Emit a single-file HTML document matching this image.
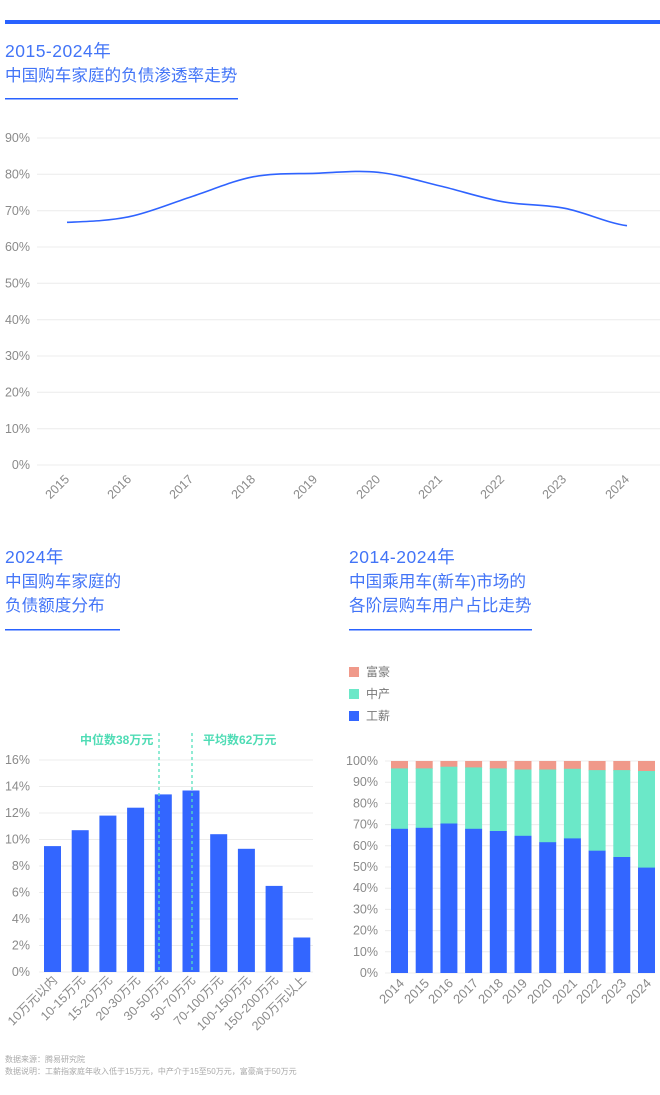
<!DOCTYPE html>
<html><head><meta charset="utf-8"><style>
html,body{margin:0;padding:0;background:#fff;}
svg{display:block;font-family:"Liberation Sans","Noto Sans CJK SC",sans-serif;}
.t{fill:#4274f7;font-size:16.6px;}
.tn{fill:#4274f7;font-size:17.5px;letter-spacing:0.5px;}
.ax{fill:#8a8a8a;font-size:12.5px;}
.g{stroke:#ececec;stroke-width:1;}
</style></head><body>
<svg width="660" height="1095" viewBox="0 0 660 1095">
<rect x="5" y="20" width="655" height="4" fill="#2962ff"/>
<text class="tn" x="5" y="57">2015-2024年</text>
<text class="t" x="5" y="81">中国购车家庭的负债渗透率走势</text>
<rect x="5" y="98" width="233" height="1.5" fill="#2962ff"/>
<g class="g">
<line x1="37" x2="660" y1="138" y2="138"/><line x1="37" x2="660" y1="174.3" y2="174.3"/><line x1="37" x2="660" y1="210.7" y2="210.7"/><line x1="37" x2="660" y1="247" y2="247"/><line x1="37" x2="660" y1="283.3" y2="283.3"/><line x1="37" x2="660" y1="319.7" y2="319.7"/><line x1="37" x2="660" y1="356" y2="356"/><line x1="37" x2="660" y1="392.3" y2="392.3"/><line x1="37" x2="660" y1="428.7" y2="428.7"/><line x1="37" x2="660" y1="465" y2="465"/>
</g>
<g class="ax" text-anchor="end">
<text x="30" y="142">90%</text><text x="30" y="178.5">80%</text><text x="30" y="215">70%</text><text x="30" y="251">60%</text><text x="30" y="287.5">50%</text><text x="30" y="324">40%</text><text x="30" y="360">30%</text><text x="30" y="396.5">20%</text><text x="30" y="433">10%</text><text x="30" y="469">0%</text>
</g>
<path d="M67,222.3 C87.7,221.4 108.5,220.97 129.2,216.7 C149.9,212.43 170.7,203.37 191.4,196.7 C212.1,190.03 233,180.6 253.7,176.7 C274.4,172.8 295.2,174.03 315.9,173.3 C336.6,172.57 357.4,170.18 378.1,172.3 C398.8,174.42 419.6,181.1 440.3,186 C461,190.9 481.9,197.98 502.6,201.7 C523.3,205.42 544.1,204.3 564.8,208.3 C585.5,212.3 606.3,222.8 627,225.7" fill="none" stroke="#2f63ff" stroke-width="1.6"/>
<g class="ax" text-anchor="end">
<text transform="translate(70,480) rotate(-45)">2015</text>
<text transform="translate(132,480) rotate(-45)">2016</text>
<text transform="translate(194,480) rotate(-45)">2017</text>
<text transform="translate(256,480) rotate(-45)">2018</text>
<text transform="translate(318,480) rotate(-45)">2019</text>
<text transform="translate(381,480) rotate(-45)">2020</text>
<text transform="translate(443,480) rotate(-45)">2021</text>
<text transform="translate(505,480) rotate(-45)">2022</text>
<text transform="translate(567,480) rotate(-45)">2023</text>
<text transform="translate(630,480) rotate(-45)">2024</text>
</g>

<text class="tn" x="5" y="563">2024年</text>
<text class="t" x="5" y="587">中国购车家庭的</text>
<text class="t" x="5" y="611">负债额度分布</text>
<rect x="5" y="629" width="115" height="1.5" fill="#2962ff"/>
<g class="g">
<line x1="39" x2="313" y1="760" y2="760"/><line x1="39" x2="313" y1="786.5" y2="786.5"/><line x1="39" x2="313" y1="813" y2="813"/><line x1="39" x2="313" y1="839.5" y2="839.5"/><line x1="39" x2="313" y1="866" y2="866"/><line x1="39" x2="313" y1="892.5" y2="892.5"/><line x1="39" x2="313" y1="919" y2="919"/><line x1="39" x2="313" y1="945.5" y2="945.5"/><line x1="39" x2="313" y1="972" y2="972"/>
</g>
<g class="ax" text-anchor="end">
<text x="30" y="764">16%</text><text x="30" y="790.5">14%</text><text x="30" y="817">12%</text><text x="30" y="843.5">10%</text><text x="30" y="870">8%</text><text x="30" y="896.5">6%</text><text x="30" y="923">4%</text><text x="30" y="949.5">2%</text><text x="30" y="976">0%</text>
</g>
<g fill="#3366ff">
<rect x="44" y="846.1" width="17" height="125.9"/><rect x="71.7" y="830.2" width="17" height="141.8"/><rect x="99.4" y="815.6" width="17" height="156.4"/><rect x="127.1" y="807.7" width="17" height="164.3"/><rect x="154.8" y="794.4" width="17" height="177.6"/><rect x="182.5" y="790.5" width="17" height="181.5"/><rect x="210.2" y="834.2" width="17" height="137.8"/><rect x="237.9" y="848.8" width="17" height="123.2"/><rect x="265.6" y="885.9" width="17" height="86.1"/><rect x="293.3" y="937.5" width="17" height="34.5"/>
</g>
<line x1="159" x2="159" y1="733" y2="972" stroke="#55e0bd" stroke-width="1.3" stroke-dasharray="3,3"/>
<line x1="192" x2="192" y1="733" y2="972" stroke="#55e0bd" stroke-width="1.3" stroke-dasharray="3,3"/>
<text x="80" y="744" fill="#4fdcb5" font-size="12" font-weight="bold">中位数38万元</text>
<text x="203" y="744" fill="#4fdcb5" font-size="12" font-weight="bold">平均数62万元</text>
<g class="ax" text-anchor="end" style="font-size:12.5px">
<text transform="translate(58,981) rotate(-45)">10万元以内</text>
<text transform="translate(86,981) rotate(-45)">10-15万元</text>
<text transform="translate(113,981) rotate(-45)">15-20万元</text>
<text transform="translate(141,981) rotate(-45)">20-30万元</text>
<text transform="translate(169,981) rotate(-45)">30-50万元</text>
<text transform="translate(196,981) rotate(-45)">50-70万元</text>
<text transform="translate(224,981) rotate(-45)">70-100万元</text>
<text transform="translate(252,981) rotate(-45)">100-150万元</text>
<text transform="translate(279,981) rotate(-45)">150-200万元</text>
<text transform="translate(307,981) rotate(-45)">200万元以上</text>
</g>
<text x="5" y="1062" fill="#aaa" font-size="8">数据来源：腾易研究院</text>
<text x="5" y="1074" fill="#aaa" font-size="8">数据说明：工薪指家庭年收入低于15万元，中产介于15至50万元，富豪高于50万元</text>

<text class="tn" x="349" y="563">2014-2024年</text>
<text class="t" x="349" y="587">中国乘用车(新车)市场的</text>
<text class="t" x="349" y="611">各阶层购车用户占比走势</text>
<rect x="349" y="629" width="183" height="1.5" fill="#2962ff"/>
<rect x="349" y="667" width="10" height="10" fill="#f0998a"/><text x="366" y="676" fill="#777" font-size="12">富豪</text>
<rect x="349" y="689" width="10" height="10" fill="#6be8c8"/><text x="366" y="698" fill="#777" font-size="12">中产</text>
<rect x="349" y="711" width="10" height="10" fill="#3366ff"/><text x="366" y="720" fill="#777" font-size="12">工薪</text>
<g class="g">
<line x1="385" x2="655" y1="761" y2="761"/><line x1="385" x2="655" y1="782.2" y2="782.2"/><line x1="385" x2="655" y1="803.4" y2="803.4"/><line x1="385" x2="655" y1="824.6" y2="824.6"/><line x1="385" x2="655" y1="845.8" y2="845.8"/><line x1="385" x2="655" y1="867" y2="867"/><line x1="385" x2="655" y1="888.2" y2="888.2"/><line x1="385" x2="655" y1="909.4" y2="909.4"/><line x1="385" x2="655" y1="930.6" y2="930.6"/><line x1="385" x2="655" y1="951.8" y2="951.8"/><line x1="385" x2="655" y1="973" y2="973"/>
</g>
<g class="ax" text-anchor="end">
<text x="378" y="765">100%</text><text x="378" y="786">90%</text><text x="378" y="807.5">80%</text><text x="378" y="828.5">70%</text><text x="378" y="850">60%</text><text x="378" y="871">50%</text><text x="378" y="892">40%</text><text x="378" y="913.5">30%</text><text x="378" y="934.5">20%</text><text x="378" y="956">10%</text><text x="378" y="977">0%</text>
</g>
<g fill="#f0998a">
<rect x="391" y="761" width="17" height="8"/><rect x="415.7" y="761" width="17" height="8"/><rect x="440.4" y="761" width="17" height="6"/><rect x="465.1" y="761" width="17" height="7"/><rect x="489.8" y="761" width="17" height="8"/><rect x="514.5" y="761" width="17" height="9"/><rect x="539.2" y="761" width="17" height="9"/><rect x="563.9" y="761" width="17" height="8"/><rect x="588.6" y="761" width="17" height="10"/><rect x="613.3" y="761" width="17" height="10"/><rect x="638" y="761" width="17" height="10"/>
</g>
<g fill="#6be8c8">
<rect x="391" y="768.4" width="17" height="61"/><rect x="415.7" y="768.4" width="17" height="60"/><rect x="440.4" y="766.7" width="17" height="57"/><rect x="465.1" y="767.4" width="17" height="62"/><rect x="489.8" y="768.4" width="17" height="63"/><rect x="514.5" y="769.5" width="17" height="67"/><rect x="539.2" y="769.5" width="17" height="73"/><rect x="563.9" y="768.8" width="17" height="70"/><rect x="588.6" y="770.1" width="17" height="81"/><rect x="613.3" y="770.1" width="17" height="87"/><rect x="638" y="771" width="17" height="97"/>
</g>
<g fill="#3366ff">
<rect x="391" y="828.8" width="17" height="144.2"/><rect x="415.7" y="827.8" width="17" height="145.2"/><rect x="440.4" y="823.5" width="17" height="149.5"/><rect x="465.1" y="828.8" width="17" height="144.2"/><rect x="489.8" y="831" width="17" height="142"/><rect x="514.5" y="835.8" width="17" height="137.2"/><rect x="539.2" y="842.2" width="17" height="130.8"/><rect x="563.9" y="838.4" width="17" height="134.6"/><rect x="588.6" y="850.7" width="17" height="122.3"/><rect x="613.3" y="857" width="17" height="116"/><rect x="638" y="867.6" width="17" height="105.4"/>
</g>
<g class="ax" text-anchor="end" style="font-size:13px">
<text transform="translate(405,984) rotate(-45)">2014</text>
<text transform="translate(430,984) rotate(-45)">2015</text>
<text transform="translate(454,984) rotate(-45)">2016</text>
<text transform="translate(479,984) rotate(-45)">2017</text>
<text transform="translate(504,984) rotate(-45)">2018</text>
<text transform="translate(528,984) rotate(-45)">2019</text>
<text transform="translate(553,984) rotate(-45)">2020</text>
<text transform="translate(578,984) rotate(-45)">2021</text>
<text transform="translate(602,984) rotate(-45)">2022</text>
<text transform="translate(627,984) rotate(-45)">2023</text>
<text transform="translate(652,984) rotate(-45)">2024</text>
</g>
</svg>
</body></html>
